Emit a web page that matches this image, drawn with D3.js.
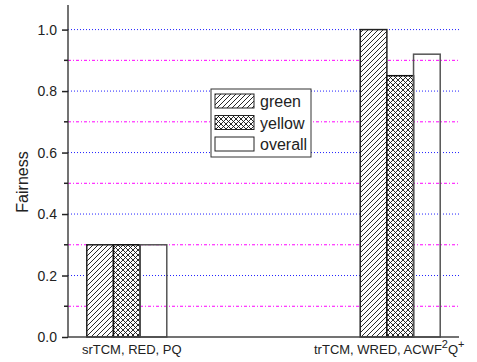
<!DOCTYPE html>
<html>
<head>
<meta charset="utf-8">
<script src="https://cdn.jsdelivr.net/npm/d3@7"></script>
<style>
  body { margin: 0; background: #fff; }
  text { font-family: Arial, 'Liberation Sans', sans-serif; fill: #222; }
</style>
</head>
<body>
<div id="chart"></div>
<script>
const groups = ['srTCM, RED, PQ', 'trTCM, WRED, ACWF2Q+']
const series = ['green', 'yellow', 'overall']
const green = [0.30, 1.00]
const yellow = [0.30, 0.85]
const overall = [0.30, 0.92]
const majorTicks = [0.0, 0.2, 0.4, 0.6, 0.8, 1.0]
const minorTicks = [0.1, 0.3, 0.5, 0.7, 0.9]

const W = 477, H = 362
const margin = { top: 5, right: 18, bottom: 25, left: 68 }
const width = W - margin.left - margin.right
const height = H - margin.top - margin.bottom

const svg = d3.select('#chart').append('svg')
  .attr('width', W).attr('height', H)

// patterns
const defs = svg.append('defs')
const diag = defs.append('pattern').attr('id', 'diag')
  .attr('patternUnits', 'userSpaceOnUse').attr('width', 5).attr('height', 5)
diag.append('rect').attr('width', 5).attr('height', 5).attr('fill', '#fff')
diag.append('path').attr('d', 'M-1,6 L6,-1 M-1,1 L1,-1 M4,6 L6,4')
  .attr('stroke', '#111').attr('stroke-width', 0.9)
const cross = defs.append('pattern').attr('id', 'cross')
  .attr('patternUnits', 'userSpaceOnUse').attr('width', 5).attr('height', 5)
cross.append('rect').attr('width', 5).attr('height', 5).attr('fill', '#fff')
cross.append('path').attr('d', 'M0,0 L5,5 M5,0 L0,5')
  .attr('stroke', '#111').attr('stroke-width', 0.9)

const fills = { green: 'url(#diag)', yellow: 'url(#cross)', overall: 'none' }
const strokes = { green: '#222', yellow: '#111', overall: '#555' }

const g = svg.append('g').attr('transform', `translate(${margin.left},${margin.top})`)

const x = d3.scalePoint().domain(groups).range([0, width]).padding(0.215)
const xs = d3.scaleBand().domain(series).range([-40, 40]).padding(0)
const y = d3.scaleLinear().domain([0, 1.08]).range([height, 0])

// grid
g.selectAll('.major').data(majorTicks.filter(d => d > 0)).enter().append('line')
  .attr('x1', 0).attr('x2', width)
  .attr('y1', d => y(d)).attr('y2', d => y(d))
  .attr('stroke', '#2020ff').attr('stroke-width', 1).attr('stroke-dasharray', '1,2')
g.selectAll('.minor').data(minorTicks).enter().append('line')
  .attr('x1', 0).attr('x2', width)
  .attr('y1', d => y(d)).attr('y2', d => y(d))
  .attr('stroke', '#ff00ff').attr('stroke-width', 1).attr('stroke-dasharray', '3,2,1,2')

// bars
const values = { green, yellow, overall }
const rows = []
groups.forEach((grp, i) => series.forEach(s => rows.push({ grp, s, v: values[s][i] })))
g.selectAll('rect.bar').data(rows).enter().append('rect')
  .attr('class', 'bar')
  .attr('x', d => x(d.grp) + xs(d.s))
  .attr('y', d => y(d.v))
  .attr('width', xs.bandwidth())
  .attr('height', d => height - y(d.v))
  .attr('fill', d => fills[d.s])
  .attr('stroke', d => strokes[d.s])
  .attr('stroke-width', 1.5)

// y axis
const yAxis = g.append('g')
  .call(d3.axisLeft(y).tickValues(majorTicks).tickFormat(d3.format('.1f')).tickSize(6).tickPadding(5))
yAxis.select('.domain').attr('stroke', '#444').attr('stroke-width', 1.5).attr('d', `M0,${height}V0`)
yAxis.selectAll('.tick line').attr('stroke', '#222').attr('stroke-width', 1.5)
yAxis.selectAll('.tick text').attr('font-size', 14).style('fill', '#222')
g.append('g').selectAll('line').data(minorTicks).enter().append('line')
  .attr('x1', -4).attr('x2', 0).attr('y1', d => y(d)).attr('y2', d => y(d))
  .attr('stroke', '#222').attr('stroke-width', 1.5)

// x axis
g.append('line').attr('x1', 0).attr('x2', width).attr('y1', height).attr('y2', height)
  .attr('stroke', '#444').attr('stroke-width', 1.5)

const xl = g.append('g').attr('font-size', 13)
xl.append('text').attr('x', x(groups[0]) + 5).attr('y', height + 17)
  .attr('text-anchor', 'middle').text('srTCM, RED, PQ')
const t2 = xl.append('text').attr('x', 314 - margin.left).attr('y', height + 17)
  .attr('text-anchor', 'start')
t2.append('tspan').text('trTCM, WRED, ACWF')
t2.append('tspan').attr('dy', -6).attr('font-size', 11).text('2')
t2.append('tspan').attr('dy', 6).text('Q')
t2.append('tspan').attr('dy', -6).attr('font-size', 11).text('+')

// y label
svg.append('text')
  .attr('transform', 'translate(28,182) rotate(-90)')
  .attr('text-anchor', 'middle').attr('font-size', 16).text('Fairness')

// legend
const leg = svg.append('g').attr('transform', 'translate(211,89)')
leg.append('rect').attr('width', 100).attr('height', 68)
  .attr('fill', '#fff').attr('stroke', '#333').attr('stroke-width', 1)
series.forEach((s, i) => {
  leg.append('rect').attr('x', 4).attr('y', 5 + i * 21.5)
    .attr('width', 39).attr('height', 14)
    .attr('fill', s === 'overall' ? '#fff' : fills[s])
    .attr('stroke', '#222').attr('stroke-width', 1)
  leg.append('text').attr('x', 49).attr('y', 18 + i * 21.5)
    .attr('font-size', 16).text(s)
})
</script>
</body>
</html>
